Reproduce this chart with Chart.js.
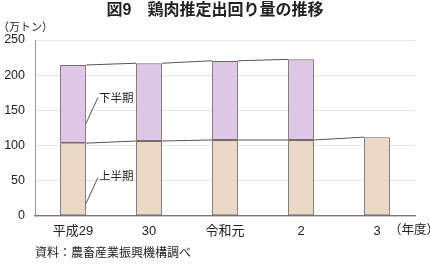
<!DOCTYPE html>
<html><head><meta charset="utf-8">
<script src="https://cdn.jsdelivr.net/npm/chart.js@4/dist/chart.umd.min.js"></script>
<style>
html,body{margin:0;padding:0;background:#fff;}
#wrap{position:relative;width:430px;height:264px;font-family:"Liberation Sans","Noto Sans CJK JP",sans-serif;color:#222;}
canvas{position:absolute;left:0;top:0;}
.t{position:absolute;white-space:nowrap;line-height:1;}
</style></head>
<body>
<div id="wrap">
<canvas id="c" width="430" height="264"></canvas>
<div class="t" id="title" style="left:0;width:430px;text-align:center;top:2px;font-size:16px;font-weight:bold;">図9　鶏肉推定出回り量の推移</div>
<div class="t" style="left:-2px;top:22px;font-size:11px;">（万トン）</div>
<div class="t" style="left:389px;top:224px;font-size:12.5px;">（年度）</div>
<div class="t" style="left:35px;top:247px;font-size:12px;">資料：農畜産業振興機構調べ</div>
</div>
<script>
const categories = ['平成29', '30', '令和元', '2', '3'];
const firstHalf = [103.5, 106.5, 108, 108, 112];
const secondHalf = [111, 110.5, 112.5, 114.5, null];
const seriesNames = ['上半期', '下半期'];
const yTicks = [0, 50, 100, 150, 200, 250];

function pattern(base, dot) {
  const p = document.createElement('canvas');
  p.width = 2; p.height = 2;
  const g = p.getContext('2d');
  g.fillStyle = base; g.fillRect(0, 0, 2, 2);
  g.fillStyle = dot; g.fillRect(0, 0, 1, 1); g.fillRect(1, 1, 1, 1);
  return g.createPattern(p, 'repeat');
}
const ctx = document.getElementById('c').getContext('2d');
const beige = pattern('#efe0cf', '#e4d2bf');
const pink = pattern('#e3cfec', '#d6bfe2');
const FONT = '"Liberation Sans", "Noto Sans CJK JP", sans-serif';

const overlay = {
  id: 'overlay',
  afterDatasetsDraw(chart) {
    const c = chart.ctx;
    const y = chart.scales.y;
    c.save();
    c.strokeStyle = '#555';
    c.lineWidth = 1;
    chart.data.datasets.forEach((ds, di) => {
      const meta = chart.getDatasetMeta(di);
      for (let i = 0; i < meta.data.length - 1; i++) {
        const a = meta.data[i], b = meta.data[i + 1];
        if (ds.data[i] == null || ds.data[i + 1] == null) continue;
        c.beginPath();
        c.moveTo(a.x + a.width / 2, a.y);
        c.lineTo(b.x - b.width / 2, b.y);
        c.stroke();
      }
    });
    const m0 = chart.getDatasetMeta(0).data[0];
    const xr = m0.x + m0.width / 2;
    c.fillStyle = '#222';
    c.font = '11.5px "Noto Sans CJK JP"';
    c.textBaseline = 'middle';
    c.textAlign = 'left';
    const yLow = y.getPixelForValue(firstHalf[0] * 0.17);
    const yHigh = y.getPixelForValue(firstHalf[0] + secondHalf[0] * 0.25);
    c.beginPath(); c.moveTo(xr, yHigh); c.lineTo(xr + 12, yHigh - 26); c.stroke();
    c.fillText(seriesNames[1], xr + 13, yHigh - 26);
    c.beginPath(); c.moveTo(xr, yLow); c.lineTo(xr + 12, yLow - 26); c.stroke();
    c.fillText(seriesNames[0], xr + 13, yLow - 28);
    c.restore();
  }
};

new Chart(ctx, {
  type: 'bar',
  data: {
    labels: categories,
    datasets: [
      { label: seriesNames[0], data: firstHalf, backgroundColor: beige, borderColor: '#7a6868', borderWidth: 1.2, borderSkipped: false, barPercentage: 0.34, categoryPercentage: 1 },
      { label: seriesNames[1], data: secondHalf, backgroundColor: pink, borderColor: '#7a6868', borderWidth: 1.2, borderSkipped: false, barPercentage: 0.34, categoryPercentage: 1 }
    ]
  },
  options: {
    responsive: false,
    animation: false,
    devicePixelRatio: 1,
    layout: { padding: { top: 40, right: 15, bottom: 0, left: 0 } },
    plugins: { legend: { display: false }, tooltip: { enabled: false }, title: { display: false } },
    scales: {
      x: {
        stacked: true,
        grid: { display: false, drawTicks: false },
        border: { color: '#777', width: 1.3 },
        ticks: { color: '#222', font: { size: 13, family: FONT }, padding: 8, maxRotation: 0 },
        afterFit(s) { s.height = 48; }
      },
      y: {
        stacked: true,
        min: 0, max: 250,
        afterBuildTicks(s) { s.ticks = yTicks.map(v => ({ value: v })); },
        grid: { color: '#e6e6e6', drawTicks: false },
        border: { color: '#999', width: 1 },
        ticks: { color: '#222', font: { size: 12.5, family: FONT }, padding: 10 },
        afterFit(s) { s.width = 35; }
      }
    }
  },
  plugins: [overlay]
});
</script>
</body></html>
